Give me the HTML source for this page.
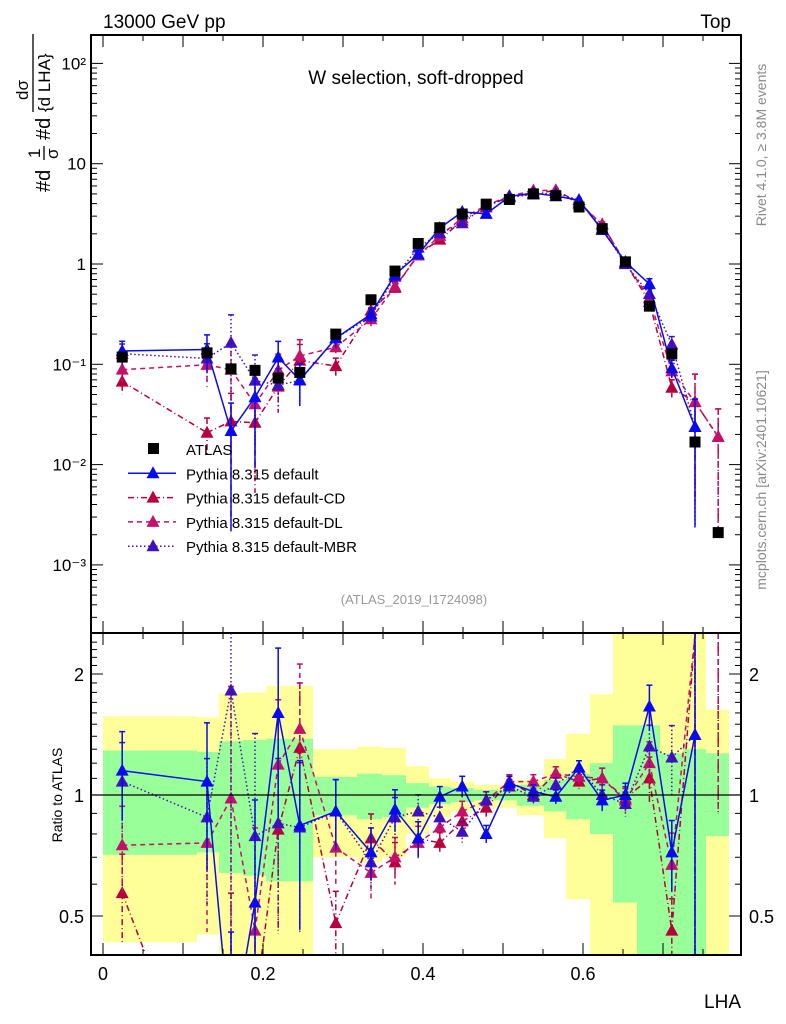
<!DOCTYPE html>
<html><head><meta charset="utf-8"><style>
html,body{margin:0;padding:0;background:#fff;overflow:hidden;width:786px;height:1024px}
svg{font-family:"Liberation Sans",sans-serif;display:block}
</style></head><body>
<svg id="chart" width="786" height="1024" viewBox="0 0 786 1024" xmlns="http://www.w3.org/2000/svg">
<g id="bands"></g>
<g id="grid"></g>
<g id="series"></g>
<g id="frame"></g>
<text x="103" y="28" font-size="19">13000 GeV pp</text>
<text x="731" y="28" font-size="19" text-anchor="end">Top</text>
<text x="416" y="84" font-size="19" text-anchor="middle">W selection, soft-dropped</text>
<text x="414" y="604" font-size="13" fill="#999" text-anchor="middle">(ATLAS_2019_I1724098)</text>
<g transform="rotate(-90)" font-size="20">
<text x="-192" y="50">#d</text>
<text x="-158" y="40" font-size="17">1</text>
<line x1="-160" x2="-146" y1="44" y2="44" stroke="#000" stroke-width="1.3"/>
<text x="-159" y="58" font-size="17">σ</text>
<text x="-140" y="50">#d</text>
<text x="-100" y="28" font-size="17">dσ</text>
<line x1="-112" x2="-34" y1="33" y2="33" stroke="#000" stroke-width="1.3"/>
<text x="-112" y="50" font-size="17">{d LHA}</text>
</g>
<text transform="translate(62,795) rotate(-90)" font-size="14" text-anchor="middle">Ratio to ATLAS</text>
<text x="741" y="1008" font-size="19" text-anchor="end">LHA</text>
<text transform="translate(766,145) rotate(-90)" font-size="14" fill="#888" text-anchor="middle">Rivet 4.1.0, ≥ 3.8M events</text>
<text transform="translate(766,480) rotate(-90)" font-size="14" fill="#888" text-anchor="middle">mcplots.cern.ch [arXiv:2401.10621]</text>
<g id="legend"></g>
</svg>
<script>
const xs = [0.024,0.130,0.160,0.190,0.219,0.246,0.291,0.335,0.365,0.394,0.421,0.449,0.479,0.508,0.538,0.566,0.595,0.624,0.653,0.683,0.711,0.740,0.769];
const edges = [0,0.1175,0.145,0.175,0.204,0.233,0.2625,0.3175,0.3488,0.3788,0.4075,0.435,0.4638,0.4938,0.5175,0.5513,0.5788,0.6088,0.6375,0.6675,0.6963,0.725,0.7538];
const atlas = [0.118,0.13,0.09,0.087,0.073,0.083,0.2,0.44,0.85,1.6,2.3,3.15,3.95,4.4,5.0,4.8,3.7,2.25,1.05,0.38,0.127,0.0168,0.0021];
const ratioDefault = [1.15,1.08,0.24,0.54,1.6,0.84,0.91,0.72,0.92,0.78,0.99,1.05,0.80,1.07,1.02,0.99,1.17,0.97,1.0,1.66,0.72,1.41,null];
const ratioCD = [0.57,0.16,0.3,0.3,0.82,1.31,0.48,0.78,0.68,0.78,0.76,0.86,0.93,1.08,1.0,1.13,1.08,1.10,0.98,1.10,0.46,2.5,9];
const ratioDL = [0.75,0.76,0.98,0.46,1.19,1.46,0.74,0.64,0.70,0.76,0.83,0.91,0.97,1.08,1.08,1.13,1.11,1.10,0.97,1.2,0.67,2.5,9];
const ratioMBR = [1.08,0.88,1.82,0.79,0.85,0.83,0.91,0.68,0.88,0.91,0.88,0.81,0.97,1.05,0.99,1.06,1.17,1.0,0.95,1.32,1.24,1.41,null];
const relErr = [0.25,0.4,0.9,0.8,0.45,0.45,0.2,0.15,0.12,0.1,0.06,0.06,0.05,0.04,0.04,0.04,0.04,0.06,0.07,0.13,0.2,0.9,0.9];
const bandGreenHi = [1.29,1.28,1.36,1.37,1.38,1.38,1.11,1.13,1.12,1.07,1.05,1.04,1.03,1.03,1.06,1.09,1.13,1.2,1.49,1.49,1.27,1.3,1.27];
const bandGreenLo = [0.71,0.72,0.64,0.63,0.61,0.61,0.89,0.87,0.88,0.93,0.95,0.96,0.97,0.97,0.94,0.91,0.87,0.8,0.54,0.4,0.4,0.4,0.79];
const bandYellowHi = [1.57,1.56,1.79,1.8,1.87,1.87,1.3,1.32,1.31,1.18,1.1,1.08,1.06,1.06,1.09,1.23,1.42,1.78,2.53,2.53,2.53,2.53,1.63];
const bandYellowLo = [0.43,0.45,0.4,0.4,0.4,0.4,0.7,0.68,0.7,0.8,0.88,0.91,0.93,0.93,0.89,0.78,0.55,0.4,0.4,0.4,0.4,0.4,0.4];
const xTicks = [0,0.2,0.4,0.6];
const yTicks = [[100,"10²"],[10,"10"],[1,"1"],[0.1,"10⁻¹"],[0.01,"10⁻²"],[0.001,"10⁻³"]];
const rTicks = [[0.5,"0.5"],[1,"1"],[2,"2"]];

const NS="http://www.w3.org/2000/svg";
const X0=91,X1=741,MT=35,MB=633,RT=633,RB=955;
const sx=v=>103+800*v;
const sy=v=>264-100.3*Math.log10(v);
const sr=v=>795-402*Math.log10(v);
const clipY=(y,t,b)=>Math.max(t,Math.min(b,y));
function mk(tag,attrs,parent){const e=document.createElementNS(NS,tag);for(const k in attrs)e.setAttribute(k,attrs[k]);parent.appendChild(e);return e;}
function clipSeg(x1,y1,x2,y2,t,b){
  if((y1<t&&y2<t)||(y1>b&&y2>b))return null;
  const f=y=>x1+(x2-x1)*(y-y1)/(y2-y1);
  if(y1<t){x1=f(t);y1=t;}else if(y1>b){x1=f(b);y1=b;}
  // recompute with original? use new endpoints consistently
  return [x1,y1,x2,y2];
}
function drawLine(pts,t,b,g,c,d){
  for(let i=0;i+1<pts.length;i++){
    let [ax,ay]=pts[i],[bx,by]=pts[i+1];
    if((ay<t&&by<t)||(ay>b&&by>b))continue;
    const ix=(y)=>ax+(bx-ax)*(y-ay)/(by-ay);
    let p1=[ax,ay],p2=[bx,by];
    if(ay<t)p1=[ix(t),t];else if(ay>b)p1=[ix(b),b];
    if(by<t)p2=[ix(t),t];else if(by>b)p2=[ix(b),b];
    mk('line',{x1:p1[0],y1:p1[1],x2:p2[0],y2:p2[1],stroke:c,'stroke-width':1.5,'stroke-dasharray':d},g);
  }
}

const bands=document.getElementById('bands');
for(let i=0;i<xs.length;i++){
  const x0=sx(edges[i]),x1=i+1<edges.length?sx(edges[i+1]):729;
  let e=mk('rect',{x:x0,y:clipY(sr(bandYellowHi[i]),RT,RB),width:x1-x0,height:clipY(sr(bandYellowLo[i]),RT,RB)-clipY(sr(bandYellowHi[i]),RT,RB),fill:'#ffff99'},bands);
  
  
  e=mk('rect',{x:x0,y:clipY(sr(bandGreenHi[i]),RT,RB),width:x1-x0,height:clipY(sr(bandGreenLo[i]),RT,RB)-clipY(sr(bandGreenHi[i]),RT,RB),fill:'#99ff99'},bands);
  
  
}

const frame=document.getElementById('frame');
mk('rect',{x:X0,y:MT,width:X1-X0,height:MB-MT,fill:'none',stroke:'#000','stroke-width':2},frame);
mk('rect',{x:X0,y:RT,width:X1-X0,height:RB-RT,fill:'none',stroke:'#000','stroke-width':2},frame);
mk('line',{x1:X0,x2:X1,y1:795,y2:795,stroke:'#000','stroke-width':1.2},frame);
for(let d=-4;d<=2;d++){for(let m=1;m<10;m++){const v=m*Math.pow(10,d);const y=sy(v);if(y<MT||y>MB)continue;const L=m==1?12:6;
  mk('line',{x1:X0,x2:X0+L,y1:y,y2:y,stroke:'#000'},frame);mk('line',{x1:X1,x2:X1-L,y1:y,y2:y,stroke:'#000'},frame);}}
yTicks.forEach(t=>{const e=mk('text',{x:X0-5,y:sy(t[0])+6,'font-size':17,'text-anchor':'end'},frame);e.textContent=t[1];
  
  });
for(let v=0.4;v<=2.5;v+=0.1){const y=sr(v);if(y<RT||y>RB)continue;const maj=Math.abs(v-1)<1e-6||Math.abs(v-2)<1e-6||Math.abs(v-0.5)<1e-6;const L=maj?12:6;
  mk('line',{x1:X0,x2:X0+L,y1:y,y2:y,stroke:'#000'},frame);mk('line',{x1:X1,x2:X1-L,y1:y,y2:y,stroke:'#000'},frame);}
rTicks.forEach(t=>{let e=mk('text',{x:X0-7,y:sr(t[0])+7,'font-size':18,'text-anchor':'end'},frame);e.textContent=t[1];
  
  
  e=mk('text',{x:X1+8,y:sr(t[0])+7,'font-size':18},frame);e.textContent=t[1];
  
  });
for(let v=0;v<=0.79;v+=0.05){const x=sx(v);const maj=Math.round(v*100)%10==0;const L=maj?12:6;
  [MT,RT].forEach(t=>mk('line',{x1:x,x2:x,y1:t,y2:t+L,stroke:'#000'},frame));
  [MB,RB].forEach(b=>mk('line',{x1:x,x2:x,y1:b,y2:b-L,stroke:'#000'},frame));}
xTicks.forEach(v=>{const e=mk('text',{x:sx(v),y:980,'font-size':18,'text-anchor':'middle'},frame);e.textContent=v===0?"0":v.toFixed(1);
  
  });

const ser=document.getElementById('series');
const defs=[
 {r:ratioCD,c:'#b8003c',d:'6,3,1,3',n:'pythia-default-cd'},
 {r:ratioDL,c:'#c4106a',d:'5,4',n:'pythia-default-dl'},
 {r:ratioMBR,c:'#4010c0',d:'1.5,2.5',n:'pythia-default-mbr'},
 {r:ratioDefault,c:'#0a0aee',d:'',n:'pythia-default'}];
function tri(g,x,y,c){mk('path',{d:`M${x},${y-7}L${x+6.5},${y+5}L${x-6.5},${y+5}Z`,fill:c},g);}
defs.forEach(s=>{
  const g=mk('g',{},ser);
  
  
  const mp=[],rp=[];
  xs.forEach((x,i)=>{if(s.r[i]==null)return;const v=atlas[i]*s.r[i];mp.push([sx(x),sy(v),v,i]);rp.push([sx(x),sr(s.r[i]),s.r[i],i]);});
  drawLine(mp,MT,MB,g,s.c,s.d);
  drawLine(rp,RT,RB,g,s.c,s.d);
  mp.forEach(p=>{const e=relErr[p[3]];const hi=clipY(sy(p[2]*(1+e)),MT,MB),lo=e>=1?MB:clipY(sy(p[2]*(1-e)),MT,MB);
    mk('line',{x1:p[0],x2:p[0],y1:hi,y2:lo,stroke:s.c,'stroke-width':1.5,'stroke-dasharray':s.d},g);
    if(hi>MT)mk('line',{x1:p[0]-3,x2:p[0]+3,y1:hi,y2:hi,stroke:s.c,'stroke-width':1.5},g);
    if(p[1]>MT+6&&p[1]<MB-6)tri(g,p[0],p[1],s.c);});
  rp.forEach(p=>{const e=Math.min(relErr[p[3]],0.95);const hi=clipY(sr(p[2]*(1+e)),RT,RB),lo=clipY(sr(p[2]*(1-e)),RT,RB);
    if(hi<lo)mk('line',{x1:p[0],x2:p[0],y1:hi,y2:lo,stroke:s.c,'stroke-width':1.5,'stroke-dasharray':s.d},g);
    if(hi>RT&&hi<RB)mk('line',{x1:p[0]-3,x2:p[0]+3,y1:hi,y2:hi,stroke:s.c,'stroke-width':1.5},g);
    if(p[1]>RT+6&&p[1]<RB-4)tri(g,p[0],p[1],s.c);});
});
const ga=mk('g',{},ser);


xs.forEach((x,i)=>{const e=mk('rect',{x:sx(x)-5.5,y:sy(atlas[i])-5.5,width:11,height:11,fill:'#000'},ga);
  
  });

const lg=document.getElementById('legend');


const items=[['ATLAS',null,''],['Pythia 8.315 default','#0a0aee',''],['Pythia 8.315 default-CD','#b8003c','6,3,1,3'],['Pythia 8.315 default-DL','#c4106a','5,4'],['Pythia 8.315 default-MBR','#4010c0','1.5,2.5']];
items.forEach((it,k)=>{const y=449+k*24.3;
  const g=mk('g',{},lg);
  
  
  if(it[1]==null){mk('rect',{x:148,y:y-6,width:11,height:11,fill:'#000'},g);}
  else{mk('line',{x1:128,x2:176,y1:y,y2:y,stroke:it[1],'stroke-width':1.5,'stroke-dasharray':it[2]},g);tri(g,153,y,it[1]);}
  const t=mk('text',{x:186,y:y+6,'font-size':15},g);t.textContent=it[0];});
</script>
</body></html>
